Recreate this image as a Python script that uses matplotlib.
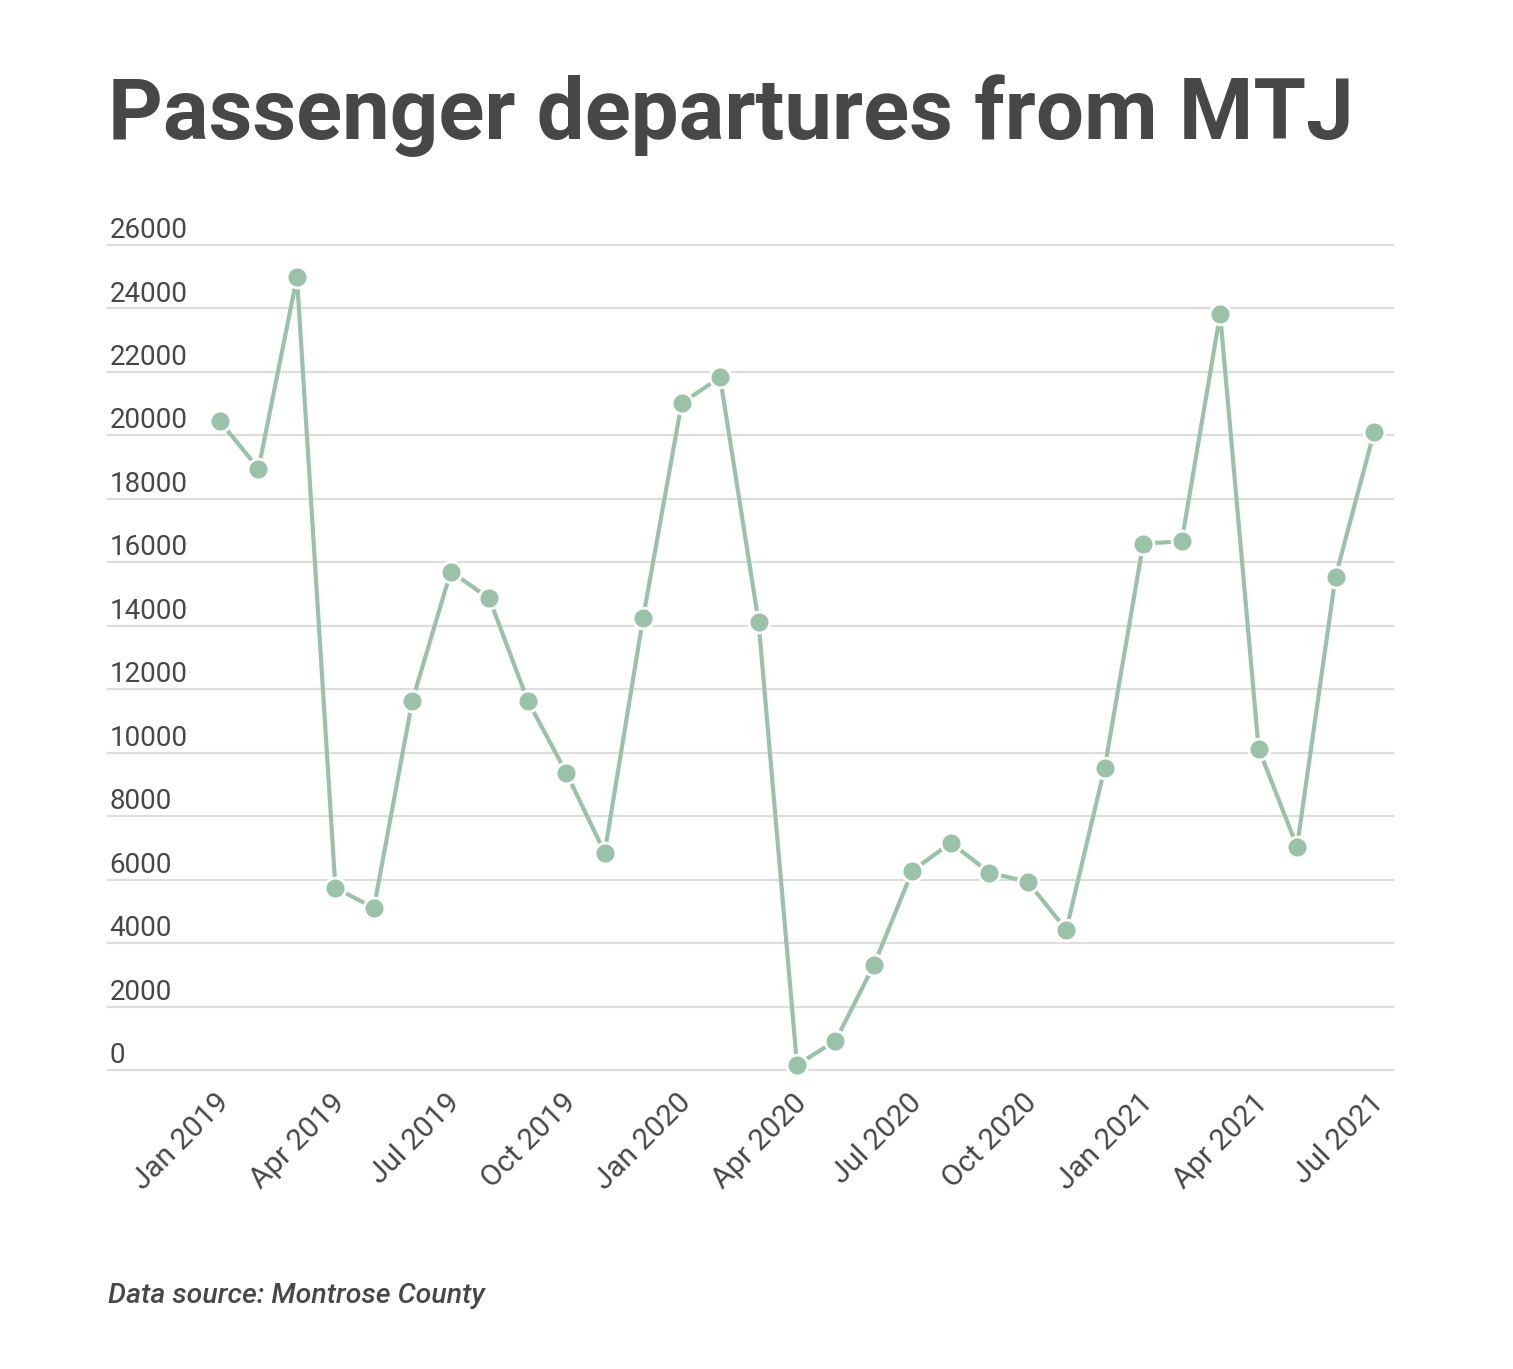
import matplotlib
matplotlib.use("Agg")
from matplotlib import pyplot as plt
from matplotlib import transforms

plt.rcParams['font.family'] = ['Roboto', 'DejaVu Sans']

months = ['Jan 2019', 'Feb 2019', 'Mar 2019', 'Apr 2019', 'May 2019', 'Jun 2019',
          'Jul 2019', 'Aug 2019', 'Sep 2019', 'Oct 2019', 'Nov 2019', 'Dec 2019',
          'Jan 2020', 'Feb 2020', 'Mar 2020', 'Apr 2020', 'May 2020', 'Jun 2020',
          'Jul 2020', 'Aug 2020', 'Sep 2020', 'Oct 2020', 'Nov 2020', 'Dec 2020',
          'Jan 2021', 'Feb 2021', 'Mar 2021', 'Apr 2021', 'May 2021', 'Jun 2021',
          'Jul 2021']
departures = [20440, 18950, 24990, 5740, 5110, 11640,
              15710, 14860, 11640, 9370, 6850, 14260,
              21010, 21830, 14130, 160, 920, 3310,
              6280, 7160, 6220, 5930, 4420, 9530,
              16590, 16660, 23820, 10130, 7040, 15550,
              20100]
y_ticks = list(range(0, 26001, 2000))
x_tick_idx = list(range(0, len(months), 3))

text_col = '#474747'
line_col = '#9ac2a9'

W, H = 1513, 1369
fig = plt.figure(figsize=(W / 100, H / 100), dpi=100)
ax = fig.add_axes([108 / W, 1 - 1070 / H, (1393 - 108) / W, (1070 - 245) / H])

x = list(range(len(months)))
ax.plot(x, departures, color=line_col, lw=3, marker='o', ms=15,
        markerfacecolor=line_col, markeredgecolor='white', mew=2, clip_on=False, zorder=3)

ax.set_xlim(-2.912, 30.494)
ax.set_ylim(0, 26000)

ax.set_yticks(y_ticks)
ax.set_yticklabels([])
ax.yaxis.grid(True, color='#dddddd', lw=1.6)
for gl in ax.get_ygridlines():
    gl.set_clip_on(False)
for v in y_ticks:
    ax.annotate(str(v), xy=(0, v), xycoords=ax.get_yaxis_transform(),
                xytext=(1, 5), textcoords='offset points',
                ha='left', va='baseline', fontsize=20, color=text_col)

ax.set_xticks(x_tick_idx)
ax.set_xticklabels([months[i] for i in x_tick_idx], rotation=45, ha='right',
                   rotation_mode='anchor', va='center', fontsize=21.5, color=text_col)
ax.tick_params(axis='both', length=0)
ax.tick_params(axis='x', pad=20.5)
shift = transforms.ScaledTranslation(5 / 100, 0, fig.dpi_scale_trans)
for lab in ax.get_xticklabels():
    lab.set_transform(lab.get_transform() + shift)

for s in ax.spines.values():
    s.set_visible(False)

fig.text(108 / W, 1 - 139 / H, 'Passenger departures from MTJ', fontsize=61.3,
         fontweight='bold', color=text_col, ha='left', va='baseline')
fig.text(108 / W, 1 - 1303 / H, 'Data source: Montrose County', fontsize=20.5,
         fontstyle='italic', fontweight='medium', color=text_col, ha='left', va='baseline')

fig.savefig('out.png', dpi=100, facecolor='white')
